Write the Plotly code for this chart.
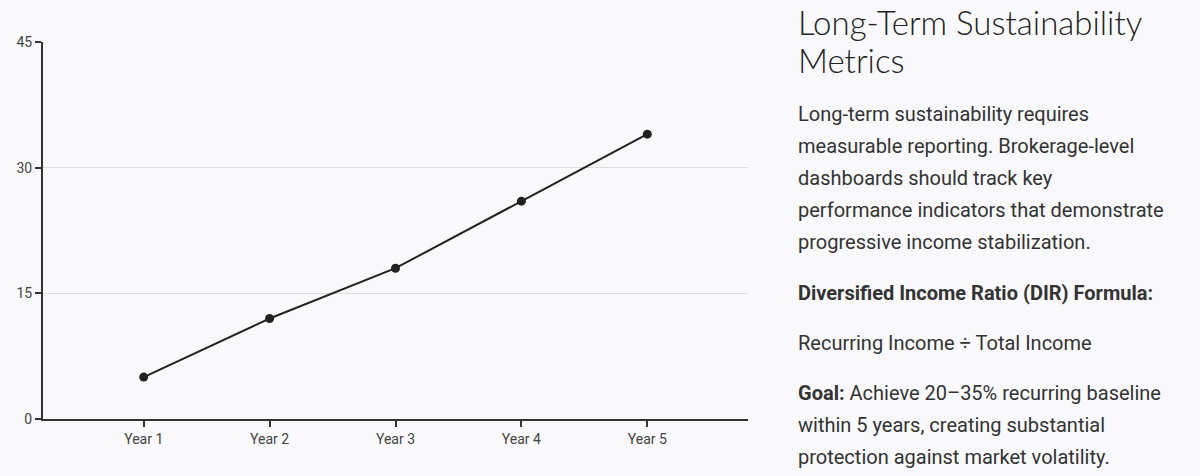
import plotly.graph_objects as go

categories = ["Year 1", "Year 2", "Year 3", "Year 4", "Year 5"]
values = [5, 12, 18, 26, 34]
y_ticks = [0, 15, 30, 45]

title_lines = ["Long-Term Sustainability", "Metrics"]
body_lines = [
    "Long-term sustainability requires",
    "measurable reporting. Brokerage-level",
    "dashboards should track key",
    "performance indicators that demonstrate",
    "progressive income stabilization.",
]
formula_label = "<b>Diversified Income Ratio (DIR) Formula:</b>"
formula_text = "Recurring Income ÷ Total Income"
goal_lines = [
    "<b>Goal:</b> Achieve 20–35% recurring baseline",
    "within 5 years, creating substantial",
    "protection against market volatility.",
]

W, H = 1200, 476
BG = "#f9f9fb"

fig = go.Figure()
fig.add_trace(go.Scatter(
    x=categories, y=values, mode="lines+markers",
    line=dict(color="#222222", width=2),
    marker=dict(color="#222222", size=9),
    hoverinfo="x+y", showlegend=False,
))

fig.update_layout(
    width=W, height=H,
    margin=dict(l=0, r=0, t=0, b=0, pad=0, autoexpand=False),
    paper_bgcolor=BG, plot_bgcolor=BG,
    font=dict(family="Roboto", color="#444444", size=14),
    xaxis=dict(
        domain=[43 / W, 748 / W],
        range=[-0.8, 4.8],
        automargin=False,
        showline=True, linecolor="#333333", linewidth=2,
        ticks="outside", ticklen=6, tickwidth=2, tickcolor="#333333",
        showgrid=False, zeroline=False,
        tickfont=dict(family="Roboto", size=14, color="#444444"),
        fixedrange=True,
    ),
    yaxis=dict(
        domain=[1 - 419 / H, 1 - 42 / H],
        range=[0, 45],
        tickvals=y_ticks,
        automargin=False,
        showline=True, linecolor="#333333", linewidth=2,
        ticks="outside", ticklen=6, tickwidth=2, tickcolor="#333333",
        showgrid=True, gridcolor="#dddddd", gridwidth=1,
        zeroline=False,
        tickfont=dict(family="Roboto", size=14, color="#444444"),
        fixedrange=True,
    ),
)

def add_line(text, y_px, size, color="#333333", family="Roboto", weight=None):
    f = dict(family=family, size=size, color=color)
    if weight is not None:
        f["weight"] = weight
    fig.add_annotation(
        text=text, xref="paper", yref="paper",
        x=796 / W, y=1 - y_px / H, xanchor="left", yanchor="middle",
        showarrow=False, font=f, align="left",
    )

title_y = [22, 60]
for t, y in zip(title_lines, title_y):
    add_line(t, y, 33, color="#222222", family="Lato", weight=300)

body_y = [114, 146, 178, 210, 242]
for t, y in zip(body_lines, body_y):
    add_line(t, y, 20)

add_line(formula_label, 293, 20)
add_line(formula_text, 343, 20)
goal_y = [393, 425, 457]
for t, y in zip(goal_lines, goal_y):
    add_line(t, y, 20)

css_js = (
    "var s=document.createElement('style');"
    "s.textContent='html,body{margin:0!important;padding:0!important;overflow:hidden;"
    "background:" + BG + ";}';"
    "document.head.appendChild(s);"
)

fig.write_html(
    "out.html",
    config={"displayModeBar": False},
    post_script=css_js,
)
